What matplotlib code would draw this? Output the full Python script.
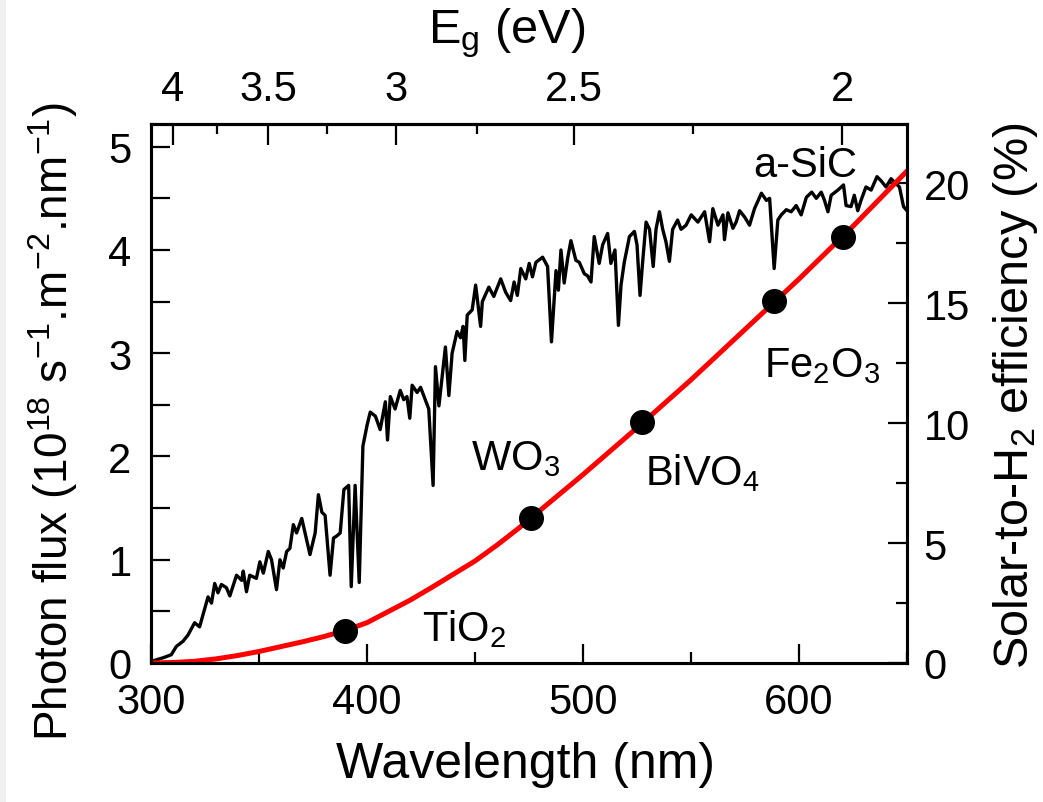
"""
Photon flux (AM1.5G) and solar-to-H2 efficiency vs wavelength.
Saves out.png.
"""
import matplotlib
matplotlib.use('Agg')
import matplotlib.pyplot as plt
from matplotlib.patches import Rectangle
from matplotlib.ticker import MultipleLocator

plt.rcParams['font.family'] = ['Liberation Sans', 'DejaVu Sans']
plt.rcParams['mathtext.fontset'] = 'custom'
plt.rcParams['mathtext.rm'] = 'Liberation Sans'
plt.rcParams['mathtext.it'] = 'Liberation Sans'
plt.rcParams['mathtext.bf'] = 'Liberation Sans:bold'

# ─── Data ───
# photon flux spectrum (10^18 s^-1 m^-2 nm^-1)
wl = [300.0, 300.8, 305.5, 309.4, 311.7, 314.8, 317.1, 320.2, 322.5, 324.1,
      326.4, 328.0, 329.5, 331.0, 332.6, 334.9, 336.5, 339.6, 342.0, 342.7,
      344.2, 345.7, 348.8, 350.4, 352.0, 354.3, 355.8, 358.1, 359.7, 361.2,
      362.8, 364.3, 365.9, 367.4, 369.8, 371.3, 373.6, 376.0, 377.5, 379.1,
      380.6, 382.9, 384.5, 386.0, 387.6, 389.3, 391.5, 392.7, 394.5, 396.4,
      398.1, 400.0, 401.5, 403.9, 406.1, 408.5, 409.5, 410.8, 413.0, 415.4,
      417.0, 418.5, 419.8, 420.9, 423.2, 424.8, 427.0, 428.6, 430.6, 431.7,
      433.3, 436.3, 437.9, 439.4, 441.7, 443.3, 444.5, 445.3, 446.4, 448.7,
      450.3, 452.6, 453.4, 456.4, 458.7, 461.9, 464.2, 466.5, 468.1, 469.6,
      471.2, 473.5, 475.1, 476.6, 478.2, 481.3, 483.6, 485.4, 487.5, 488.6,
      489.8, 491.3, 492.9, 494.4, 496.7, 498.3, 500.6, 502.1, 503.7, 505.2,
      507.5, 509.1, 511.4, 512.9, 514.8, 516.4, 517.6, 519.1, 521.5, 523.8,
      525.0, 526.4, 527.6, 529.2, 530.8, 532.5, 533.8, 535.4, 536.9, 538.4,
      540.0, 541.5, 543.8, 545.4, 547.7, 550.1, 553.2, 556.3, 558.6, 560.1,
      562.5, 564.8, 565.5, 567.1, 569.4, 570.9, 572.5, 574.8, 577.1, 579.4,
      582.6, 584.9, 586.4, 588.5, 590.2, 591.8, 594.1, 596.4, 598.7, 601.0,
      603.4, 605.9, 608.0, 610.3, 611.8, 613.4, 614.9, 618.0, 620.6, 621.8,
      624.1, 625.6, 627.2, 628.7, 631.0, 633.4, 636.1, 638.0, 640.3, 642.6,
      645.0, 646.5, 648.4, 650.0]
flux = [0.00, 0.02, 0.05, 0.08, 0.16, 0.21, 0.27, 0.39, 0.35, 0.47,
        0.64, 0.58, 0.77, 0.68, 0.76, 0.73, 0.65, 0.85, 0.80, 0.89,
        0.69, 0.85, 0.82, 0.98, 0.87, 1.08, 1.00, 0.71, 1.00, 0.92,
        1.08, 1.11, 1.34, 1.26, 1.40, 1.26, 1.05, 1.26, 1.63, 1.46,
        1.43, 0.85, 1.21, 1.23, 1.26, 1.68, 1.72, 0.74, 1.72, 0.78,
        2.10, 2.30, 2.43, 2.39, 2.26, 2.53, 2.16, 2.58, 2.46, 2.64,
        2.55, 2.58, 2.37, 2.69, 2.62, 2.67, 2.55, 2.46, 1.72, 2.87,
        2.49, 3.06, 2.59, 3.00, 3.21, 3.15, 3.26, 2.93, 3.37, 3.42,
        3.66, 3.26, 3.50, 3.64, 3.55, 3.72, 3.59, 3.51, 3.69, 3.56,
        3.82, 3.72, 3.87, 3.74, 3.88, 3.93, 3.84, 3.11, 3.80, 3.61,
        4.00, 3.68, 3.92, 4.09, 3.90, 3.88, 3.77, 3.75, 3.69, 4.13,
        3.87, 4.05, 4.16, 3.87, 4.00, 3.27, 3.66, 3.88, 4.13, 4.18,
        4.05, 3.56, 3.88, 4.27, 4.20, 3.84, 4.20, 4.37, 4.20, 4.08,
        3.89, 4.20, 4.29, 4.20, 4.24, 4.34, 4.27, 4.37, 4.08, 4.40,
        4.24, 4.34, 4.10, 4.36, 4.21, 4.27, 4.38, 4.32, 4.24, 4.40,
        4.55, 4.48, 4.50, 3.82, 4.29, 4.34, 4.39, 4.37, 4.43, 4.34,
        4.51, 4.56, 4.50, 4.56, 4.48, 4.37, 4.53, 4.58, 4.63, 4.43,
        4.42, 4.53, 4.38, 4.48, 4.61, 4.58, 4.71, 4.67, 4.61, 4.69,
        4.64, 4.61, 4.42, 4.38]

# solar-to-H2 efficiency curve (%)
eff_wl = [300, 310, 320, 330, 340, 350, 360, 370, 380, 390, 400, 410, 420,
          430, 440, 450, 460, 470, 480, 490, 500, 525, 550, 575, 600, 625, 650]
eff = [0.0, 0.02, 0.07, 0.17, 0.31, 0.48, 0.68, 0.88, 1.10, 1.36, 1.68,
       2.15, 2.62, 3.15, 3.70, 4.25, 4.90, 5.60, 6.35, 7.10, 7.85, 9.80,
       11.80, 13.90, 16.00, 18.20, 20.50]

# photoelectrode materials
materials = ['TiO$_2$', 'WO$_3$', 'BiVO$_4$', 'Fe$_2$O$_3$', 'a-SiC']
mat_wl = [390.0, 475.7, 527.1, 588.3, 620.4]
mat_eff = [1.35, 6.05, 10.03, 15.10, 17.75]

# Eg top-axis ticks
eg_major = [4, 3.5, 3, 2.5, 2]
eg_minor = [3.75, 3.25, 2.75, 2.25]

# ─── Figure ───
fig = plt.figure(figsize=(10.43, 8.03), dpi=100)
fig.patches.append(Rectangle((0, 0), 6 / 1043, 1, transform=fig.transFigure,
                             facecolor='#f0f0f0', edgecolor='none'))
ax = fig.add_axes([151 / 1043, 1 - 664 / 803, 756 / 1043, 539 / 803])
ax2 = ax.twinx()

tick_fs = 30
label_fs = 35
ann_fs = 30

ax.plot(wl, flux, color='black', lw=2.4)
ax.set_xlim(300, 650)
ax.set_ylim(0, 5.22)

ax2.plot(eff_wl, eff, color='#ff0000', lw=3.6, solid_capstyle='round', zorder=2)
ax2.plot(mat_wl, mat_eff, 'o', color='black', ms=17, zorder=3)
ax2.set_ylim(0, 22.46)

# annotation positions (wavelength, flux) for the labels
ann_pos = [(425.4, 0.22), (448.2, 1.88), (528.5, 1.73), (583.8, 2.78), (579.0, 4.72)]
for name, (x, y) in zip(materials, ann_pos):
    ax.text(x, y, name, fontsize=ann_fs, ha='left', va='baseline')

# ─── Ticks ───
ax.xaxis.set_major_locator(MultipleLocator(100))
ax.xaxis.set_minor_locator(MultipleLocator(50))
ax.yaxis.set_major_locator(MultipleLocator(1))
ax.yaxis.set_minor_locator(MultipleLocator(0.5))
ax2.yaxis.set_major_locator(MultipleLocator(5))
ax2.yaxis.set_minor_locator(MultipleLocator(2.5))

ax.tick_params(axis='x', which='both', direction='in', top=False,
               labelsize=tick_fs, pad=14, width=1.6)
ax.tick_params(axis='x', which='major', length=14)
ax.tick_params(axis='x', which='minor', length=8)
ax.tick_params(axis='y', which='both', direction='in', right=False,
               labelsize=tick_fs, pad=14, width=1.6, length=14)
ax2.tick_params(axis='y', which='both', direction='in', labelsize=tick_fs,
                pad=12, width=1.6)
ax2.tick_params(axis='y', which='major', length=14)
ax2.tick_params(axis='y', which='minor', length=8)


def to_eg(x):
    x = x.astype(float) if hasattr(x, 'astype') else float(x)
    return 1240.0 / x


top = ax.secondary_xaxis('top', functions=(to_eg, to_eg))
top.set_xticks(eg_major, labels=['4', '3.5', '3', '2.5', '2'])
top.set_xticks(eg_minor, minor=True)
top.tick_params(axis='x', which='both', direction='in', labelsize=tick_fs,
                pad=11, width=1.6)
top.tick_params(axis='x', which='major', length=15)
top.tick_params(axis='x', which='minor', length=7)

for a in (ax, ax2, top):
    for s in a.spines.values():
        s.set_linewidth(2.2)

# ─── Labels ───
ax.set_xlabel('Wavelength (nm)', fontsize=label_fs + 1, va='center')
ax.xaxis.set_label_coords(0.495, -0.187)
ax.set_ylabel('Photon flux (10$^{18}$ s$^{-1}$.m$^{-2}$.nm$^{-1}$)',
              fontsize=label_fs - 2, va='center')
ax.yaxis.set_label_coords(-0.129, 0.449)
ax2.set_ylabel('Solar-to-H$_2$ efficiency (%)', fontsize=label_fs,
               va='center', rotation=90)
ax2.yaxis.set_label_coords(1.144, 0.497)
top.set_xlabel('E$_\\mathrm{g}$ (eV)', fontsize=label_fs, va='center')
top.xaxis.set_label_coords(0.47, 1.17, transform=ax.transAxes)

fig.savefig('out.png', dpi=100, facecolor='white')
plt.close(fig)
print("Saved: out.png")
